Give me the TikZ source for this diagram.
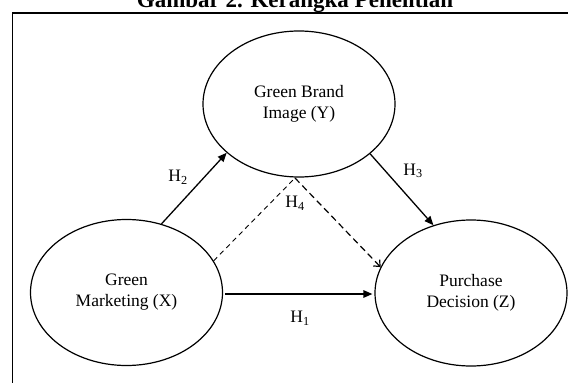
\documentclass[tikz,border=0pt]{standalone}
\usepackage{fontspec}
\setmainfont{Liberation Serif}
\usetikzlibrary{shapes.geometric,arrows.meta}
\begin{document}
\begin{tikzpicture}[x=1pt,y=-1pt,
  construct/.style={draw, ellipse, line width=1.2pt, minimum width=192pt, minimum height=146pt,
    inner sep=0pt, align=center, font=\fontsize{17.5}{21}\selectfont},
  solidarrow/.style={line width=1.3pt, -{Triangle[length=9pt,width=7.5pt]}},
  thindash/.style={line width=0.9pt, dash pattern=on 5pt off 4pt},
  dasharrow/.style={line width=1.2pt, dash pattern=on 6.5pt off 4pt, -{Straight Barb[length=5pt,width=9pt]}},
  hlabel/.style={font=\fontsize{17.5}{21}\selectfont, inner sep=0pt},
  frameline/.style={line width=1.1pt}]
\clip (0,0) rectangle (568,383);
\node[anchor=base, font=\fontsize{23}{26}\selectfont\bfseries] (title) at (295,7) {Gambar 2. Kerangka Penelitian};
\draw[frameline] (12.5,13) rectangle (620,430);
\node[construct] (Y) at (299,104) {Green Brand\\Image (Y)};
\node[construct] (X) at (126.5,292.5) {Green\\Marketing (X)};
\node[construct] (Z) at (471,293) {Purchase\\Decision (Z)};
\coordinate (peak) at (295,178);
\draw[solidarrow, shorten <=2pt, shorten >=2pt] (X.east |- 0,294) -- (Z.west |- 0,294);
\draw[solidarrow] (X.63) -- (Y.-146.7);
\draw[solidarrow] (Y.-35.7) -- (Z.119.5);
\draw[thindash] (X.20) -- (peak);
\draw[dasharrow] (peak) -- (Z.164.4);
\node[hlabel] (h1) at (300,318) {H\textsubscript{1}};
\node[hlabel] (h2) at (178,177) {H\textsubscript{2}};
\node[hlabel] (h3) at (413,171) {H\textsubscript{3}};
\node[hlabel] (h4) at (295,203) {H\textsubscript{4}};
\end{tikzpicture}
\end{document}
